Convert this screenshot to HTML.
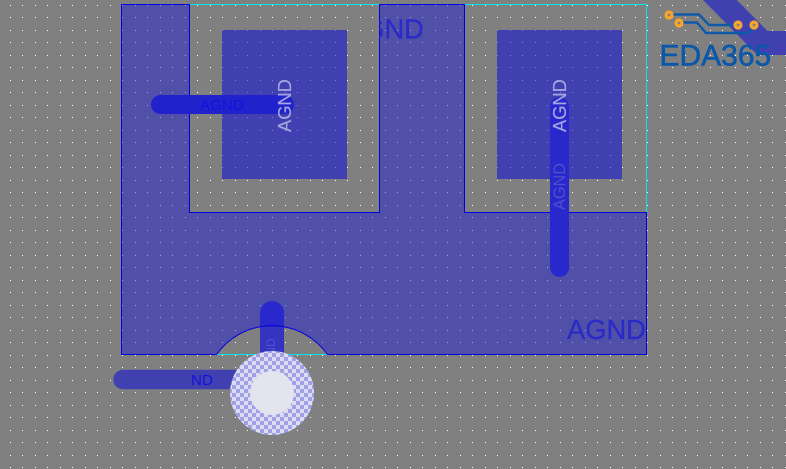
<!DOCTYPE html>
<html><head><meta charset="utf-8"><style>
html,body{margin:0;padding:0;background:#808080;overflow:hidden}
svg{display:block}
text{font-family:"Liberation Sans",sans-serif}
</style></head><body>
<svg xmlns="http://www.w3.org/2000/svg" width="786" height="469" viewBox="0 0 786 469">
<defs>
<pattern id="grid" width="25" height="25" patternUnits="userSpaceOnUse" x="10" y="5">
<rect x="0" y="0" width="1" height="1" fill="#fff"/><rect x="12" y="0" width="1" height="1" fill="#fff"/>
<rect x="0" y="12" width="1" height="1" fill="#fff"/><rect x="12" y="12" width="1" height="1" fill="#fff"/>
</pattern>
<pattern id="chk" width="8" height="8" patternUnits="userSpaceOnUse" x="232" y="353">
<rect width="8" height="8" fill="#dcdcf4"/><rect width="4" height="4" fill="#a0a0e6"/><rect x="4" y="4" width="4" height="4" fill="#a0a0e6"/>
</pattern>
<clipPath id="fillClip"><path d="M121.5 4.5H189.5V212.5H379.5V4.5H464.5V212.5H646.5V354.5H327.5A68 68 0 0 0 216.5 354.5H121.5Z"/></clipPath>
<clipPath id="arcClip"><rect x="255" y="326" width="34" height="30"/></clipPath>
</defs>
<rect width="786" height="469" fill="#808080"/>
<rect width="786" height="469" fill="url(#grid)"/>
<polyline points="710,-10 762.5,43 800,43" fill="none" stroke="#4040b0" stroke-width="24"/>
<rect x="222" y="30" width="125" height="149" fill="rgb(0,0,224)" fill-opacity=".5"/>
<rect x="497" y="30" width="125" height="149" fill="rgb(0,0,224)" fill-opacity=".5"/>
<line x1="123" y1="379.5" x2="272" y2="379.5" stroke="#4040b0" stroke-width="19.5" stroke-linecap="round"/>
<g fill="none" stroke="#00e5f0" stroke-width="1">
<path d="M189 4.5H379M464 4.5H646.5V212M217 354.5H327"/>
</g>
<path d="M121.5 4.5H189.5V212.5H379.5V4.5H464.5V212.5H646.5V354.5H327.5A68 68 0 0 0 216.5 354.5H121.5Z" fill="rgb(0,0,235)" fill-opacity=".375" stroke="none"/>
<line x1="272" y1="313" x2="272" y2="393" stroke="#2828cc" stroke-width="24" stroke-linecap="round"/>
<rect x="260" y="326" width="24" height="28" fill="#3434c0" clip-path="url(#arcClip)"/>
<path d="M121.5 354.5V4.5H189.5V212.5H379.5V4.5H464.5V212.5H646.5V354.5H327.5A68 68 0 0 0 216.5 354.5H121.5Z" fill="none" stroke="#0000e0" stroke-width="1"/>
<line x1="160.5" y1="104.5" x2="284.5" y2="104.5" stroke="#2222cc" stroke-width="19" stroke-linecap="round"/>
<line x1="559.5" y1="106.5" x2="559.5" y2="267.5" stroke="#2828cc" stroke-width="19" stroke-linecap="round"/>
<g clip-path="url(#fillClip)"><text x="345" y="38.5" font-size="27.3" fill="#2a2ac8" stroke="#2a2ac8" stroke-width=".3">AGND</text></g>
<text x="567" y="339" font-size="27.3" fill="#2a2ac8" stroke="#2a2ac8" stroke-width=".3">AGND</text>
<text x="200" y="110" font-size="15.2" fill="#1212e0">AGND</text>
<text x="191" y="385" font-size="15.2" fill="#1212e0">ND</text>
<text transform="translate(291,132) rotate(-90)" font-size="18.3" fill="#a4a4e0" stroke="#a4a4e0" stroke-width=".2">AGND</text>
<text transform="translate(566,132) rotate(-90)" font-size="18.3" fill="#a4a4e0" stroke="#a4a4e0" stroke-width=".2">AGND</text>
<text transform="translate(565,210) rotate(-90)" font-size="16.3" fill="#5050c8">AGND</text>
<g clip-path="url(#arcClip)"><text transform="translate(275,373) rotate(-90)" font-size="12" fill="#5050d0">AGND</text></g>
<circle cx="272" cy="393" r="42" fill="url(#chk)"/>
<circle cx="272" cy="393" r="22" fill="#e4e4ee"/>
<g fill="none" stroke="#0f5aa8" stroke-width="2.4">
<polyline points="670,14.5 699,14.5 709,25 738,25"/>
<polyline points="680,22.5 697,22.5 706,33 748,33 754,26"/>
</g>
<g fill="#808080" stroke="#f8a62a" stroke-width="3.2">
<circle cx="669" cy="15" r="3"/><circle cx="679" cy="23" r="3"/><circle cx="738" cy="25" r="3"/><circle cx="754" cy="25" r="3"/>
</g>
<text x="659.5" y="65.5" font-size="30" fill="#0b57a8" stroke="#0b57a8" stroke-width=".6">EDA365</text>
</svg>
</body></html>
